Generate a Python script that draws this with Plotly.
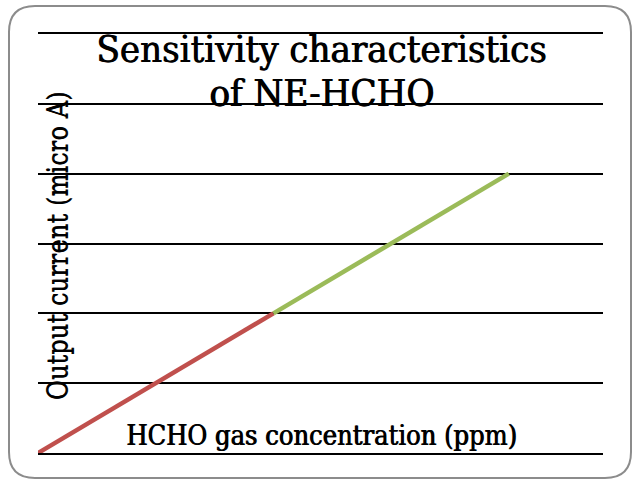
import plotly.graph_objects as go

# Data
conc_low = [0, 5]
current_low = [0, 2]
conc_high = [5, 10]
current_high = [2, 4]

title_line1 = "Sensitivity characteristics"
title_line2 = "of NE-HCHO"
x_title = "HCHO gas concentration (ppm)"
y_title = "Output current (micro A)"

W, H = 633, 479
L, R, T, B = 38, 30, 34, 26
pw, ph = W - L - R, H - T - B

def px2x(px):
    return (px - L) / pw

def py2y(py):
    return (H - B - py) / ph

FONT = "DejaVu Serif Condensed, DejaVu Serif, serif"
SHADOW = "0.9px 0px 0px black"

fig = go.Figure()
fig.add_trace(go.Scatter(x=conc_low, y=current_low, mode="lines",
                         line=dict(color="#C0504D", width=4.5), showlegend=False))
fig.add_trace(go.Scatter(x=conc_high, y=current_high, mode="lines",
                         line=dict(color="#9BBB59", width=4.5), showlegend=False))

# rounded border
x0, x1, y0, y1 = 9, 631, 6, 478
r = 26
path = (f"M {px2x(x0+r)},{py2y(y0)} L {px2x(x1-r)},{py2y(y0)} "
        f"Q {px2x(x1)},{py2y(y0)} {px2x(x1)},{py2y(y0+r)} "
        f"L {px2x(x1)},{py2y(y1-r)} Q {px2x(x1)},{py2y(y1)} {px2x(x1-r)},{py2y(y1)} "
        f"L {px2x(x0+r)},{py2y(y1)} Q {px2x(x0)},{py2y(y1)} {px2x(x0)},{py2y(y1-r)} "
        f"L {px2x(x0)},{py2y(y0+r)} Q {px2x(x0)},{py2y(y0)} {px2x(x0+r)},{py2y(y0)} Z")
fig.add_shape(type="path", path=path, xref="paper", yref="paper",
              line=dict(color="#8c8c8c", width=2), layer="below")

fig.add_annotation(text=title_line1, x=px2x(321), y=py2y(49), xref="paper", yref="paper",
                   showarrow=False, font=dict(family=FONT, size=38, color="black", shadow=SHADOW),
                   xanchor="center", yanchor="middle")
fig.add_annotation(text=title_line2, x=px2x(321), y=py2y(93), xref="paper", yref="paper",
                   showarrow=False, font=dict(family=FONT, size=38, color="black", shadow=SHADOW),
                   xanchor="center", yanchor="middle")
fig.add_annotation(text=x_title, x=px2x(321), y=py2y(435), xref="paper", yref="paper",
                   showarrow=False, font=dict(family=FONT, size=27, color="black", shadow=SHADOW),
                   xanchor="center", yanchor="middle")
fig.add_annotation(text=y_title, x=px2x(58), y=py2y(246), xref="paper", yref="paper",
                   showarrow=False, textangle=-90,
                   font=dict(family=FONT, size=27, color="black", shadow="0px -0.9px 0px black"),
                   xanchor="center", yanchor="middle")

fig.update_layout(
    width=W, height=H,
    margin=dict(l=L, r=R, t=T, b=B),
    paper_bgcolor="white", plot_bgcolor="white",
    xaxis=dict(range=[0, 12], showgrid=False, zeroline=False, showticklabels=False,
               ticks="", showline=True, mirror=True, linecolor="#000000", linewidth=1.5),
    yaxis=dict(range=[0, 6], dtick=1, showgrid=True, gridcolor="#000000", gridwidth=1.5,
               zeroline=False, showticklabels=False, ticks="", showline=False),
)

fig.write_html("out.html", config={"displayModeBar": False},
               post_script="document.body.style.margin='0';document.body.style.overflow='hidden';")
